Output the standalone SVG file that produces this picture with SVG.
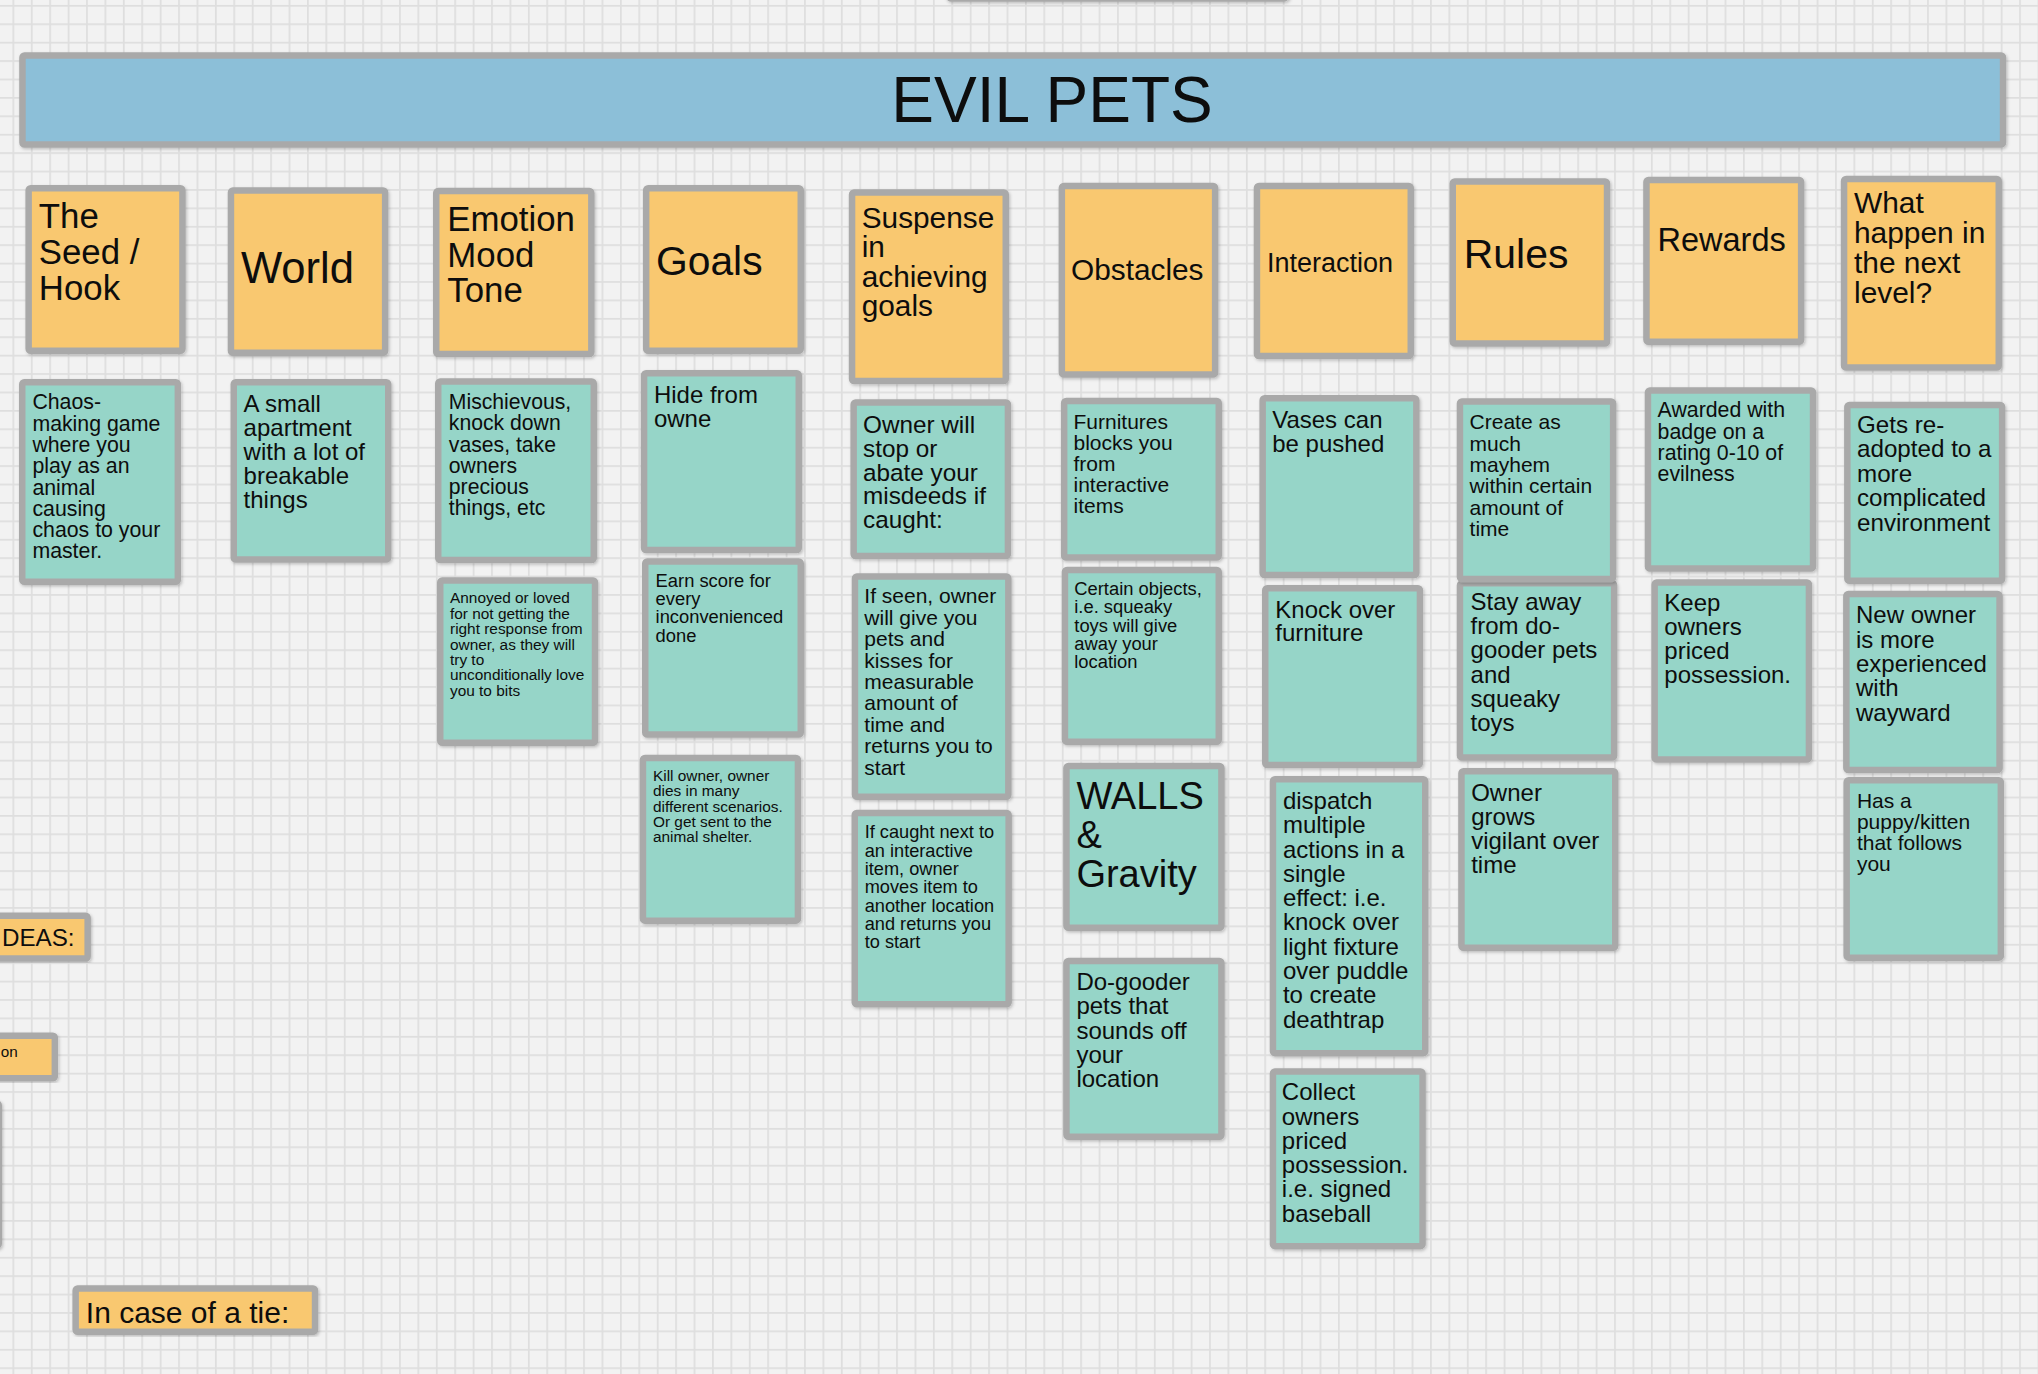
<svg xmlns="http://www.w3.org/2000/svg" width="2038" height="1374" viewBox="0 0 2038 1374">
  <defs>
    <!-- board grid -->
    <pattern id="grid" patternUnits="userSpaceOnUse" x="12.45" y="4.95" width="18.41" height="18.41">
      <rect x="0" y="0" width="18.41" height="18.41" fill="#f2f2f2"/>
      <rect x="0" y="0" width="1.7" height="18.41" fill="#dedede"/>
      <rect x="0" y="0" width="18.41" height="1.7" fill="#dedede"/>
    </pattern>
    <filter id="sh" x="-10%" y="-10%" width="120%" height="120%">
      <feDropShadow dx="1.2" dy="1.5" stdDeviation="1.4" flood-color="#000" flood-opacity="0.22"/>
    </filter>
  </defs>
  <style>
    .card { stroke: #a9a9a9; stroke-width: 6.5; filter: url(#sh); }
    .or { fill: #f9c86f; }
    .tl { fill: #96d5c8; }
    .bl { fill: #8cbfd8; }
    text { font-family: "Liberation Sans", Arial, Helvetica, sans-serif; fill: #0d0d0d; }
  </style>

  <rect x="0" y="0" width="2038" height="1374" fill="url(#grid)"/>

  <!-- stickies cut off at the board edges -->
  <g id="edge-top">
    <rect class="card tl" x="948.85" y="-100" width="337.3" height="98.4" rx="2"/>
  </g>
  <g id="edge-left">
    <rect class="card tl" x="-150" y="1103.25" width="148.75" height="142.5" rx="2"/>
  </g>

  <!-- title banner -->
  <g id="title">
    <rect class="card bl" x="22.45" y="55.55" width="1980.6" height="88.9" rx="2"/>
    <text x="1052" y="121.7" font-size="64" text-anchor="middle">EVIL PETS</text>
  </g>

  <!-- column headers -->
  <g id="h-seed">
    <rect class="card or" x="28.65" y="188.25" width="153.8" height="162.5" rx="2"/>
    <text font-size="34.8"><tspan x="38.8" y="228.3">The</tspan><tspan x="38.8" y="264.3">Seed /</tspan><tspan x="38.8" y="300">Hook</tspan></text>
  </g>
  <g id="h-world">
    <rect class="card or" x="230.95" y="190.55" width="154.2" height="162.2" rx="2"/>
    <text x="241" y="283.3" font-size="43.6">World</text>
  </g>
  <g id="h-emotion">
    <rect class="card or" x="436.25" y="190.95" width="155.1" height="163.1" rx="2"/>
    <text font-size="34.8"><tspan x="447.3" y="230.7">Emotion</tspan><tspan x="447.3" y="266.7">Mood</tspan><tspan x="447.3" y="302.3">Tone</tspan></text>
  </g>
  <g id="h-goals">
    <rect class="card or" x="646.15" y="188.25" width="154.6" height="162.5" rx="2"/>
    <text x="656" y="275" font-size="40.8">Goals</text>
  </g>
  <g id="h-suspense">
    <rect class="card or" x="852.05" y="192.55" width="153.7" height="188.5" rx="2"/>
    <text font-size="29.8"><tspan x="861.7" y="227.7">Suspense</tspan><tspan x="861.7" y="257.2">in</tspan><tspan x="861.7" y="286.7">achieving</tspan><tspan x="861.7" y="316">goals</tspan></text>
  </g>
  <g id="h-obstacles">
    <rect class="card or" x="1061.85" y="185.95" width="153.3" height="188.5" rx="2"/>
    <text x="1071" y="280" font-size="29.8">Obstacles</text>
  </g>
  <g id="h-interaction">
    <rect class="card or" x="1256.95" y="185.95" width="153.8" height="170.1" rx="2"/>
    <text x="1267" y="271.7" font-size="27">Interaction</text>
  </g>
  <g id="h-rules">
    <rect class="card or" x="1452.75" y="181.55" width="154.3" height="161.9" rx="2"/>
    <text x="1463.8" y="268.3" font-size="40.9">Rules</text>
  </g>
  <g id="h-rewards">
    <rect class="card or" x="1646.45" y="179.95" width="154.7" height="161.8" rx="2"/>
    <text x="1657.5" y="250.7" font-size="32.5">Rewards</text>
  </g>
  <g id="h-next">
    <rect class="card or" x="1844.05" y="178.95" width="154.7" height="188.5" rx="2"/>
    <text font-size="29.9"><tspan x="1854" y="213.3">What</tspan><tspan x="1854" y="243.1">happen in</tspan><tspan x="1854" y="272.9">the next</tspan><tspan x="1854" y="302.7">level?</tspan></text>
  </g>

  <!-- seed / hook -->
  <g id="n-chaos">
    <rect class="card tl" x="22.25" y="382.25" width="155.6" height="199.5" rx="2"/>
    <text font-size="21.3"><tspan x="32.4" y="409.3">Chaos-</tspan><tspan x="32.4" y="430.6">making game</tspan><tspan x="32.4" y="451.9">where you</tspan><tspan x="32.4" y="473.2">play as an</tspan><tspan x="32.4" y="494.5">animal</tspan><tspan x="32.4" y="515.8">causing</tspan><tspan x="32.4" y="537.1">chaos to your</tspan><tspan x="32.4" y="558.4">master.</tspan></text>
  </g>

  <!-- world -->
  <g id="n-apartment">
    <rect class="card tl" x="233.75" y="382.25" width="154.5" height="177.2" rx="2"/>
    <text font-size="24"><tspan x="243.6" y="411.7">A small</tspan><tspan x="243.6" y="435.7">apartment</tspan><tspan x="243.6" y="459.7">with a lot of</tspan><tspan x="243.6" y="483.7">breakable</tspan><tspan x="243.6" y="507.7">things</tspan></text>
  </g>

  <!-- emotion / mood / tone -->
  <g id="n-mischievous">
    <rect class="card tl" x="438.25" y="381.55" width="155.5" height="178.5" rx="2"/>
    <text font-size="21.2"><tspan x="448.8" y="409.3">Mischievous,</tspan><tspan x="448.8" y="430.4">knock down</tspan><tspan x="448.8" y="451.5">vases, take</tspan><tspan x="448.8" y="472.6">owners</tspan><tspan x="448.8" y="493.7">precious</tspan><tspan x="448.8" y="514.8">things, etc</tspan></text>
  </g>
  <g id="n-annoyed">
    <rect class="card tl" x="440.25" y="580.55" width="154.8" height="162.2" rx="2"/>
    <text font-size="15.4"><tspan x="450" y="603.3">Annoyed or loved</tspan><tspan x="450" y="618.7">for not getting the</tspan><tspan x="450" y="634.1">right response from</tspan><tspan x="450" y="649.5">owner, as they will</tspan><tspan x="450" y="664.9">try to</tspan><tspan x="450" y="680.3">unconditionally love</tspan><tspan x="450" y="695.7">you to bits</tspan></text>
  </g>

  <!-- goals -->
  <g id="n-hide">
    <rect class="card tl" x="644.05" y="373.25" width="154.7" height="176.8" rx="2"/>
    <text font-size="24"><tspan x="653.9" y="403.3">Hide from</tspan><tspan x="653.9" y="426.7">owne</tspan></text>
  </g>
  <g id="n-score">
    <rect class="card tl" x="645.25" y="561.55" width="155.5" height="172.9" rx="2"/>
    <text font-size="18.35"><tspan x="655.6" y="586.7">Earn score for</tspan><tspan x="655.6" y="605">every</tspan><tspan x="655.6" y="623.3">inconvenienced</tspan><tspan x="655.6" y="641.6">done</tspan></text>
  </g>
  <g id="n-kill">
    <rect class="card tl" x="642.95" y="758.05" width="155" height="162.6" rx="2"/>
    <text font-size="15.4"><tspan x="653" y="781">Kill owner, owner</tspan><tspan x="653" y="796.3">dies in many</tspan><tspan x="653" y="811.6">different scenarios.</tspan><tspan x="653" y="826.9">Or get sent to the</tspan><tspan x="653" y="842.2">animal shelter.</tspan></text>
  </g>

  <!-- suspense -->
  <g id="n-stop">
    <rect class="card tl" x="853.65" y="402.55" width="154.3" height="153.5" rx="2"/>
    <text font-size="24.3"><tspan x="863" y="432.7">Owner will</tspan><tspan x="863" y="456.6">stop or</tspan><tspan x="863" y="480.5">abate your</tspan><tspan x="863" y="504.4">misdeeds if</tspan><tspan x="863" y="528.3">caught:</tspan></text>
  </g>
  <g id="n-seen">
    <rect class="card tl" x="854.95" y="576.55" width="153.4" height="220.2" rx="2"/>
    <text font-size="21"><tspan x="864.3" y="603.3">If seen, owner</tspan><tspan x="864.3" y="624.7">will give you</tspan><tspan x="864.3" y="646.1">pets and</tspan><tspan x="864.3" y="667.5">kisses for</tspan><tspan x="864.3" y="688.9">measurable</tspan><tspan x="864.3" y="710.3">amount of</tspan><tspan x="864.3" y="731.7">time and</tspan><tspan x="864.3" y="753.1">returns you to</tspan><tspan x="864.3" y="774.5">start</tspan></text>
  </g>
  <g id="n-caught">
    <rect class="card tl" x="854.75" y="812.95" width="153.9" height="191.3" rx="2"/>
    <text font-size="18.2"><tspan x="864.7" y="838.3">If caught next to</tspan><tspan x="864.7" y="856.6">an interactive</tspan><tspan x="864.7" y="874.9">item, owner</tspan><tspan x="864.7" y="893.2">moves item to</tspan><tspan x="864.7" y="911.5">another location</tspan><tspan x="864.7" y="929.8">and returns you</tspan><tspan x="864.7" y="948.1">to start</tspan></text>
  </g>

  <!-- obstacles -->
  <g id="n-furniture">
    <rect class="card tl" x="1064.15" y="400.95" width="154.6" height="156.5" rx="2"/>
    <text font-size="21"><tspan x="1073.5" y="429.3">Furnitures</tspan><tspan x="1073.5" y="450.3">blocks you</tspan><tspan x="1073.5" y="471.3">from</tspan><tspan x="1073.5" y="492.3">interactive</tspan><tspan x="1073.5" y="513.3">items</tspan></text>
  </g>
  <g id="n-squeaky">
    <rect class="card tl" x="1064.95" y="569.95" width="153.8" height="171.8" rx="2"/>
    <text font-size="18.35"><tspan x="1074.3" y="595">Certain objects,</tspan><tspan x="1074.3" y="613.3">i.e. squeaky</tspan><tspan x="1074.3" y="631.6">toys will give</tspan><tspan x="1074.3" y="649.9">away your</tspan><tspan x="1074.3" y="668.2">location</tspan></text>
  </g>
  <g id="n-walls">
    <rect class="card tl" x="1066.45" y="765.95" width="155" height="161.8" rx="2"/>
    <text font-size="38"><tspan x="1076.4" y="808.9">WALLS</tspan><tspan x="1076.4" y="847.7">&amp;</tspan><tspan x="1076.4" y="886.5">Gravity</tspan></text>
  </g>
  <g id="n-dogooder">
    <rect class="card tl" x="1066.45" y="960.95" width="155" height="175.8" rx="2"/>
    <text font-size="24"><tspan x="1076.4" y="990">Do-gooder</tspan><tspan x="1076.4" y="1014.3">pets that</tspan><tspan x="1076.4" y="1038.6">sounds off</tspan><tspan x="1076.4" y="1062.9">your</tspan><tspan x="1076.4" y="1087.2">location</tspan></text>
  </g>

  <!-- interaction -->
  <g id="n-vases">
    <rect class="card tl" x="1262.65" y="398.25" width="153.7" height="176.8" rx="2"/>
    <text font-size="24"><tspan x="1272.2" y="428.3">Vases can</tspan><tspan x="1272.2" y="451.7">be pushed</tspan></text>
  </g>
  <g id="n-knock">
    <rect class="card tl" x="1265.25" y="588.25" width="154.7" height="176.8" rx="2"/>
    <text font-size="24"><tspan x="1275.3" y="617.7">Knock over</tspan><tspan x="1275.3" y="641">furniture</tspan></text>
  </g>
  <g id="n-dispatch">
    <rect class="card tl" x="1272.95" y="779.15" width="152.3" height="274" rx="2"/>
    <text font-size="24"><tspan x="1282.9" y="808.9">dispatch</tspan><tspan x="1282.9" y="833.2">multiple</tspan><tspan x="1282.9" y="857.5">actions in a</tspan><tspan x="1282.9" y="881.8">single</tspan><tspan x="1282.9" y="906.1">effect: i.e.</tspan><tspan x="1282.9" y="930.4">knock over</tspan><tspan x="1282.9" y="954.7">light fixture</tspan><tspan x="1282.9" y="979">over puddle</tspan><tspan x="1282.9" y="1003.3">to create</tspan><tspan x="1282.9" y="1027.6">deathtrap</tspan></text>
  </g>
  <g id="n-collect">
    <rect class="card tl" x="1272.95" y="1071.55" width="149.6" height="174.6" rx="2"/>
    <text font-size="24"><tspan x="1281.8" y="1100.2">Collect</tspan><tspan x="1281.8" y="1124.5">owners</tspan><tspan x="1281.8" y="1148.8">priced</tspan><tspan x="1281.8" y="1173.1">possession.</tspan><tspan x="1281.8" y="1197.4">i.e. signed</tspan><tspan x="1281.8" y="1221.7">baseball</tspan></text>
  </g>

  <!-- rules -->
  <g id="n-stayaway">
    <rect class="card tl" x="1459.95" y="583.25" width="154.2" height="174.2" rx="2"/>
    <text font-size="24"><tspan x="1470.6" y="610">Stay away</tspan><tspan x="1470.6" y="634.2">from do-</tspan><tspan x="1470.6" y="658.4">gooder pets</tspan><tspan x="1470.6" y="682.6">and</tspan><tspan x="1470.6" y="706.8">squeaky</tspan><tspan x="1470.6" y="731">toys</tspan></text>
  </g>
  <g id="n-mayhem">
    <rect class="card tl" x="1459.95" y="401.55" width="153.2" height="177.5" rx="2"/>
    <text font-size="21"><tspan x="1469.6" y="429.3">Create as</tspan><tspan x="1469.6" y="450.6">much</tspan><tspan x="1469.6" y="471.9">mayhem</tspan><tspan x="1469.6" y="493.2">within certain</tspan><tspan x="1469.6" y="514.5">amount of</tspan><tspan x="1469.6" y="535.8">time</tspan></text>
  </g>
  <g id="n-vigilant">
    <rect class="card tl" x="1461.45" y="771.15" width="153.8" height="176.6" rx="2"/>
    <text font-size="24"><tspan x="1471.2" y="801">Owner</tspan><tspan x="1471.2" y="825.1">grows</tspan><tspan x="1471.2" y="849.2">vigilant over</tspan><tspan x="1471.2" y="873.3">time</tspan></text>
  </g>

  <!-- rewards -->
  <g id="n-badge">
    <rect class="card tl" x="1647.95" y="390.55" width="165.1" height="177.9" rx="2"/>
    <text font-size="21.3"><tspan x="1657.6" y="417.3">Awarded with</tspan><tspan x="1657.6" y="438.6">badge on a</tspan><tspan x="1657.6" y="459.9">rating 0-10 of</tspan><tspan x="1657.6" y="481.2">evilness</tspan></text>
  </g>
  <g id="n-keep">
    <rect class="card tl" x="1654.65" y="582.55" width="154.3" height="176.9" rx="2"/>
    <text font-size="24"><tspan x="1664.3" y="610.7">Keep</tspan><tspan x="1664.3" y="634.9">owners</tspan><tspan x="1664.3" y="659.1">priced</tspan><tspan x="1664.3" y="683.3">possession.</tspan></text>
  </g>

  <!-- next level -->
  <g id="n-readopted">
    <rect class="card tl" x="1847.35" y="404.95" width="154.8" height="175.8" rx="2"/>
    <text font-size="24.2"><tspan x="1857" y="432.7">Gets re-</tspan><tspan x="1857" y="457.2">adopted to a</tspan><tspan x="1857" y="481.7">more</tspan><tspan x="1857" y="506.2">complicated</tspan><tspan x="1857" y="530.7">environment</tspan></text>
  </g>
  <g id="n-newowner">
    <rect class="card tl" x="1846.35" y="593.95" width="153.2" height="176.1" rx="2"/>
    <text font-size="24"><tspan x="1856" y="623.3">New owner</tspan><tspan x="1856" y="647.6">is more</tspan><tspan x="1856" y="671.9">experienced</tspan><tspan x="1856" y="696.2">with</tspan><tspan x="1856" y="720.5">wayward</tspan></text>
  </g>
  <g id="n-puppy">
    <rect class="card tl" x="1846.65" y="780.25" width="154.2" height="177.4" rx="2"/>
    <text font-size="21"><tspan x="1856.9" y="807.7">Has a</tspan><tspan x="1856.9" y="828.9">puppy/kitten</tspan><tspan x="1856.9" y="850.1">that follows</tspan><tspan x="1856.9" y="871.3">you</tspan></text>
  </g>

  <!-- side labels -->
  <g id="l-ideas">
    <rect class="card or" x="-16.75" y="915.65" width="104.4" height="42.8" rx="2"/>
    <text x="2" y="946.2" font-size="24.2">DEAS:</text>
  </g>
  <g id="l-on">
    <rect class="card or" x="-96.75" y="1035.75" width="151.6" height="42.5" rx="2"/>
    <text x="0.8" y="1057.2" font-size="15.3">on</text>
  </g>
  <g id="l-tie">
    <rect class="card or" x="75.65" y="1288.45" width="239.4" height="43.3" rx="2"/>
    <text x="85.8" y="1323" font-size="30">In case of a tie:</text>
  </g>

  <g id="connectors"/>
</svg>
